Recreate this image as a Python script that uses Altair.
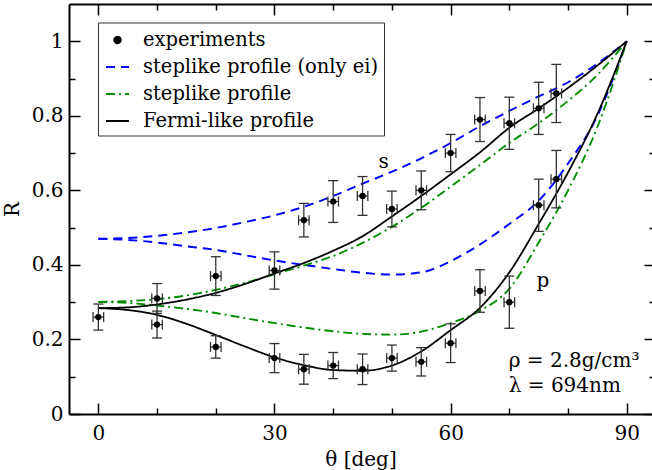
import altair as alt
import pandas as pd

FONT = "DejaVu Serif"
FS = 20
FS_LEG = 19.5

# ---------------- experimental data ----------------
exp_theta = [0, 10, 20, 30, 35, 40, 45, 50, 55, 60, 65, 70, 75, 78,
             10, 20, 30, 35, 40, 45, 50, 55, 60, 65, 70, 75, 78]
exp_R = [0.26, 0.31, 0.37, 0.385, 0.52, 0.57, 0.585, 0.55, 0.60, 0.70, 0.79, 0.78, 0.82, 0.86,
         0.24, 0.18, 0.15, 0.12, 0.13, 0.12, 0.15, 0.14, 0.19, 0.33, 0.30, 0.56, 0.63]
exp_err = [0.035, 0.04, 0.052, 0.05, 0.045, 0.056, 0.052, 0.048, 0.052, 0.05, 0.059, 0.07, 0.07, 0.078,
           0.036, 0.03, 0.039, 0.04, 0.035, 0.041, 0.035, 0.038, 0.052, 0.057, 0.07, 0.07, 0.077]
exp_theta_err = 0.9

# ---------------- model curves ----------------
theta_curve = [0, 5, 10, 15, 20, 25, 30, 35, 40, 45, 50, 55, 60, 65, 70, 75, 80, 85, 90]
fermi_s = [0.284, 0.286, 0.294, 0.307, 0.325, 0.349, 0.377, 0.405, 0.438, 0.477, 0.530, 0.585,
           0.643, 0.702, 0.768, 0.820, 0.875, 0.935, 1.0]
fermi_p = [0.284, 0.279, 0.266, 0.242, 0.212, 0.181, 0.152, 0.131, 0.118, 0.116, 0.130, 0.168,
           0.225, 0.285, 0.380, 0.510, 0.648, 0.805, 1.0]
step_s = [0.301, 0.303, 0.308, 0.318, 0.333, 0.352, 0.375, 0.398, 0.424, 0.459, 0.502, 0.553,
          0.610, 0.668, 0.727, 0.780, 0.840, 0.910, 1.0]
step_p = [0.301, 0.298, 0.291, 0.282, 0.271, 0.257, 0.244, 0.232, 0.222, 0.215, 0.213, 0.221,
          0.244, 0.277, 0.336, 0.460, 0.600, 0.770, 1.0]
ei_s = [0.470, 0.472, 0.478, 0.487, 0.499, 0.515, 0.533, 0.556, 0.585, 0.618, 0.650, 0.686,
        0.727, 0.772, 0.813, 0.852, 0.890, 0.940, 1.0]
ei_p = [0.470, 0.467, 0.460, 0.450, 0.440, 0.426, 0.412, 0.400, 0.389, 0.379, 0.374, 0.380,
        0.410, 0.455, 0.510, 0.572, 0.672, 0.800, 1.0]

models = ["experiments", "steplike profile (only ei)", "steplike profile", "Fermi-like profile"]
model_colors = ["black", "#0000ff", "#008c00", "black"]
model_dashes = [[1, 0], [9, 6], [9, 4, 2, 4], [1, 0]]
model_widths = [2, 1.8, 1.8, 2.6]

# annotations
ann_center_text = ["s", "p"]
ann_center_theta = [48.6, 75.7]
ann_center_R = [0.659, 0.342]
ann_left_text = ["ρ = 2.8g/cm³", "λ = 694nm"]
ann_left_theta = [69.9, 69.9]
ann_left_R = [0.127, 0.059]

# tick values
x_major = [0, 30, 60, 90]
x_minor = [10, 20, 40, 50, 70, 80]
y_major = [0, 0.2, 0.4, 0.6, 0.8, 1.0]
y_minor = [0.1, 0.3, 0.5, 0.7, 0.9]

# ---------------- tables ----------------
curve_rows = []
for name, pol, vals in [(models[1], "s", ei_s), (models[1], "p", ei_p),
                        (models[2], "s", step_s), (models[2], "p", step_p),
                        (models[3], "s", fermi_s), (models[3], "p", fermi_p)]:
    for t, r in zip(theta_curve, vals):
        curve_rows.append({"model": name, "pol": pol, "theta": t, "R": r})
curves = pd.DataFrame(curve_rows)

exp = pd.DataFrame({"theta": exp_theta, "R": exp_R, "err": exp_err})
exp["lo"] = exp["R"] - exp["err"]
exp["hi"] = exp["R"] + exp["err"]
exp["tlo"] = exp["theta"] - exp_theta_err
exp["thi"] = exp["theta"] + exp_theta_err

caps_v = pd.concat([pd.DataFrame({"theta": exp["theta"], "R": exp["lo"]}),
                    pd.DataFrame({"theta": exp["theta"], "R": exp["hi"]})])
caps_h = pd.concat([pd.DataFrame({"theta": exp["tlo"], "R": exp["R"]}),
                    pd.DataFrame({"theta": exp["thi"], "R": exp["R"]})])

ann_c = pd.DataFrame({"text": ann_center_text, "theta": ann_center_theta, "R": ann_center_R})
ann_l = pd.DataFrame({"text": ann_left_text, "theta": ann_left_theta, "R": ann_left_R})

# ---------------- scales & axes ----------------
xs = alt.Scale(domain=[-5, 94.3], nice=False, zero=False)
ys = alt.Scale(domain=[0, 1.1], nice=False, zero=False)

tick_common = dict(grid=False, domain=False, tickColor="black", tickWidth=1.5)

ax_bottom_major = alt.Axis(orient="bottom", values=x_major, tickSize=11, offset=-11,
                           format="~r", labelFont=FONT, labelFontSize=FS, labelColor="black",
                           labelPadding=9, labelFlush=False, title="θ [deg]", titleFont=FONT,
                           titleFontSize=FS, titleFontWeight="normal", titleColor="black",
                           titlePadding=6, **tick_common)
ax_left_major = alt.Axis(orient="left", values=y_major, tickSize=11, offset=-11,
                         format="~r", labelFont=FONT, labelFontSize=FS, labelColor="black",
                         labelPadding=6, labelFlush=False, title="R", titleFont=FONT,
                         titleFontSize=FS, titleFontWeight="normal", titleColor="black",
                         titlePadding=9, **tick_common)
ax_bottom_minor = alt.Axis(orient="bottom", values=x_minor, tickSize=6, offset=-6,
                           labels=False, title=None, **tick_common)
ax_left_minor = alt.Axis(orient="left", values=y_minor, tickSize=6, offset=-6,
                         labels=False, title=None, **tick_common)
ax_top_major = alt.Axis(orient="top", values=x_major, tickSize=11, offset=-11,
                        labels=False, title=None, **tick_common)
ax_top_minor = alt.Axis(orient="top", values=x_minor, tickSize=6, offset=-6,
                        labels=False, title=None, **tick_common)
ax_right_major = alt.Axis(orient="right", values=y_major, tickSize=8, offset=-8,
                          labels=False, title=None, **tick_common)
ax_right_minor = alt.Axis(orient="right", values=y_minor, tickSize=3, offset=-3,
                          labels=False, title=None, **tick_common)
frame_common = dict(grid=False, domain=True, ticks=False, labels=False, title=None,
                    domainColor="black", domainWidth=2)
ax_frame_bottom = alt.Axis(orient="bottom", **frame_common)
ax_frame_left = alt.Axis(orient="left", **frame_common)
ax_frame_top = alt.Axis(orient="top", **frame_common)

legend = alt.Legend(
    title=None, orient="none", legendX=29, legendY=18.5,
    strokeColor="#333", fillColor="white", padding=5, symbolOffset=2,
    labelFont=FONT, labelFontSize=FS_LEG, labelColor="black", labelOffset=13, labelLimit=400,
    rowPadding=5,
    symbolType={"expr": "datum.value === 'experiments' ? 'circle' : 'stroke'"},
    symbolSize={"expr": "datum.value === 'experiments' ? 40 : 529"},
    symbolFillColor={"expr": "datum.value === 'experiments' ? 'black' : 'transparent'"},
)

lines = alt.Chart(curves).mark_line(interpolate="monotone").encode(
    x=alt.X("theta:Q", scale=xs, axis=ax_bottom_major),
    y=alt.Y("R:Q", scale=ys, axis=ax_left_major),
    color=alt.Color("model:N", scale=alt.Scale(domain=models, range=model_colors), legend=legend),
    strokeDash=alt.StrokeDash("model:N", scale=alt.Scale(domain=models, range=model_dashes), legend=legend),
    strokeWidth=alt.StrokeWidth("model:N", scale=alt.Scale(domain=models, range=model_widths), legend=legend),
    detail="pol:N",
)

bar_color = "#333"
vbars = alt.Chart(exp).mark_rule(color=bar_color, strokeWidth=1.3).encode(
    x=alt.X("theta:Q", scale=xs, axis=ax_bottom_minor),
    y=alt.Y("lo:Q", scale=ys, axis=ax_left_minor),
    y2="hi:Q",
)
hbars = alt.Chart(exp).mark_rule(color=bar_color, strokeWidth=1.3).encode(
    x=alt.X("tlo:Q", scale=xs, axis=ax_top_major),
    x2="thi:Q",
    y=alt.Y("R:Q", scale=ys, axis=ax_right_major),
)
vcaps = alt.Chart(caps_v).mark_tick(orient="horizontal", size=10, thickness=1.3, color=bar_color, opacity=1).encode(
    x=alt.X("theta:Q", scale=xs, axis=ax_top_minor),
    y=alt.Y("R:Q", scale=ys, axis=ax_right_minor),
)
hcaps = alt.Chart(caps_h).mark_tick(orient="vertical", size=10, thickness=1.3, color=bar_color, opacity=1).encode(
    x=alt.X("theta:Q", scale=xs, axis=ax_frame_bottom),
    y=alt.Y("R:Q", scale=ys, axis=ax_frame_left),
)
points = alt.Chart(exp).mark_circle(size=40, color="black", opacity=1).encode(
    x=alt.X("theta:Q", scale=xs, axis=ax_frame_top),
    y=alt.Y("R:Q", scale=ys, axis=None),
)
txt_c = alt.Chart(ann_c).mark_text(font=FONT, fontSize=FS, color="black", align="center",
                                   baseline="alphabetic").encode(
    x=alt.X("theta:Q", scale=xs, axis=None),
    y=alt.Y("R:Q", scale=ys, axis=None),
    text="text:N",
)
txt_l = alt.Chart(ann_l).mark_text(font=FONT, fontSize=FS, color="black", align="left",
                                   baseline="alphabetic").encode(
    x=alt.X("theta:Q", scale=xs, axis=None),
    y=alt.Y("R:Q", scale=ys, axis=None),
    text="text:N",
)

chart = alt.layer(lines, vbars, hbars, vcaps, hcaps, points, txt_c, txt_l).resolve_axis(
    x="independent", y="independent"
).properties(
    width=583, height=410,
    autosize=alt.AutoSizeParams(type="none"),
    padding={"left": 69, "top": 4, "right": 0, "bottom": 56},
    background="white",
).configure_view(stroke=None)

chart.save("out.html", embed_options={"renderer": "svg", "actions": False})
